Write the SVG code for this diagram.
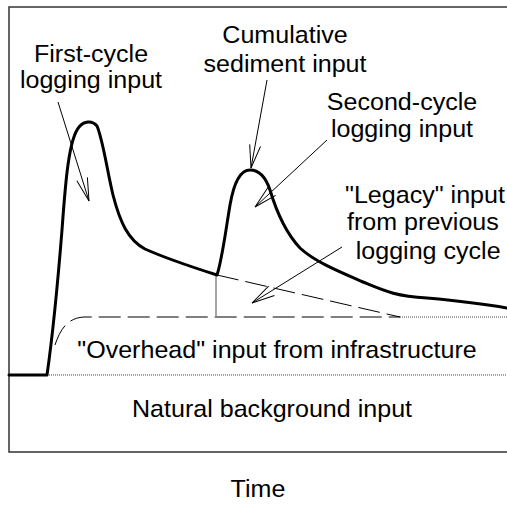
<svg xmlns="http://www.w3.org/2000/svg" width="507" height="506" viewBox="0 0 507 506">
  <style>
    .frame { fill: none; stroke: #333; stroke-width: 1.5; }
    .fine { fill: none; stroke: #444; stroke-width: 1; stroke-dasharray: 1 1; }
    .curve { fill: none; stroke: #000; stroke-width: 3; stroke-linejoin: round; stroke-linecap: round; }
    .dash { fill: none; stroke: #000; stroke-width: 1; stroke-dasharray: 22 7; }
    .pointer { fill: none; stroke: #000; stroke-width: 1; marker-end: url(#barb); }
    .lbl { font-family: "Liberation Sans", Arial, sans-serif; font-size: 24px; fill: #000; text-anchor: middle; }
  </style>
  <defs>
    <marker id="barb" markerUnits="userSpaceOnUse" orient="auto" refX="0" refY="0" markerWidth="30" markerHeight="30" viewBox="-25 -10 30 20" overflow="visible">
      <path d="M-23,-5.5 L0,0 L-23,5.5" fill="none" stroke="#000" stroke-width="1"/>
    </marker>
  </defs>
  <rect width="507" height="506" fill="#fff"/>

  <!-- plot frame -->
  <g id="frame">
    <path class="frame" d="M507,7 L9,7 L9,452 L507,452"/>
    <path class="fine" d="M9,375 L507,375"/>
  </g>

  <!-- input curves -->
  <g id="curves">
    <path class="dash" d="M55,345 C60,330 67,318 84,317 L400,317"/>
    <path class="fine" d="M400,317 L507,317"/>
    <path class="dash" d="M217,275 L400,317" stroke-dasharray="18 6"/>
    <path d="M216,275 L216,317" fill="none" stroke="#888" stroke-width="1.5"/>
    <path class="curve" d="M9,375 L47,375 C52,340 58,280 62,230 C65,190 68,140 79,127 C84,121 92,120 97,126 C103,140 107,170 113,195 C120,222 128,240 145,249 C165,258 195,268 217,275 C222,260 225,235 230,205 C234,182 240,170 250,170 C258,170 265,175 270,190 C276,210 285,232 300,248 C315,262 340,272 363,282 C385,291 395,296 427,298 C460,301 490,305 507,308"/>
  </g>

  <!-- annotation pointers -->
  <g id="connectors">
    <path class="pointer" d="M58,102 L89,201"/>
    <path class="pointer" d="M267,80 L251,168"/>
    <path class="pointer" d="M327,140 L255,207"/>
    <path class="pointer" d="M342,247 L252,303"/>
  </g>

  <g id="first-cycle" transform="translate(91,0) scale(1.045,1)">
    <text class="lbl" x="0" y="62">First-cycle</text>
    <text class="lbl" x="0" y="88">logging input</text>
  </g>
  <g id="cumulative" transform="translate(285,0) scale(1.045,1)">
    <text class="lbl" x="0" y="43">Cumulative</text>
    <text class="lbl" x="0" y="72">sediment input</text>
  </g>
  <g id="second-cycle" transform="translate(402,0) scale(1.045,1)">
    <text class="lbl" x="0" y="110">Second-cycle</text>
    <text class="lbl" x="0" y="137">logging input</text>
  </g>
  <g id="legacy" transform="translate(425,0) scale(1.045,1)">
    <text class="lbl" x="0" y="203">"Legacy" input</text>
    <text class="lbl" x="-2" y="230">from previous</text>
    <text class="lbl" x="3" y="259">logging cycle</text>
  </g>
  <g id="overhead" transform="translate(277,0) scale(1.045,1)">
    <text class="lbl" x="0" y="358">"Overhead" input from infrastructure</text>
  </g>
  <g id="natural" transform="translate(272,0) scale(1.045,1)">
    <text class="lbl" x="0" y="417">Natural background input</text>
  </g>
  <g id="time-axis" transform="translate(258,0) scale(1.045,1)">
    <text class="lbl" x="0" y="497">Time</text>
  </g>
</svg>
